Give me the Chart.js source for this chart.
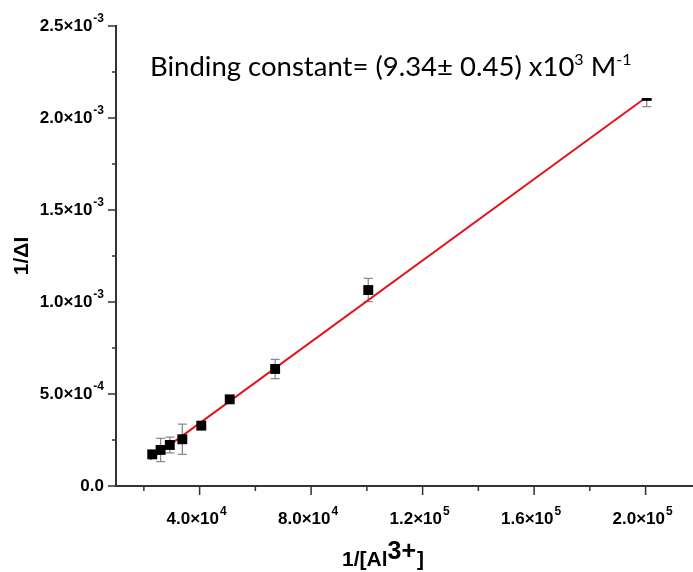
<!DOCTYPE html>
<html>
<head>
<meta charset="utf-8">
<script src="https://cdn.jsdelivr.net/npm/chart.js@4/dist/chart.umd.min.js"></script>
<style>
  html, body { margin: 0; padding: 0; background: #fff; }
  canvas { display: block; }
</style>
</head>
<body>
<canvas id="bhChart" width="693" height="572"></canvas>
<script>
// Data (1/[Al3+] vs 1/dI)
const xVals = [2.3e4, 2.6e4, 2.93e4, 3.38e4, 4.06e4, 5.08e4, 6.71e4, 1.005e5, 2.004e5];
const yVals = [1.72e-4, 1.96e-4, 2.23e-4, 2.54e-4, 3.28e-4, 4.71e-4, 6.36e-4, 1.065e-3, 2.12e-3];
const yErr  = [1.5e-5, 6.3e-5, 4.3e-5, 8.2e-5, 2.0e-5, 1.5e-5, 5.2e-5, 6.3e-5, 5.8e-5];

// fitted line end points
const fitX = [2.22e4, 2.0e5];
const fitY = [1.45e-4, 2.11e-3];

// axis ticks
const xMajor = [4e4, 8e4, 1.2e5, 1.6e5, 2e5];
const xMinor = [2e4, 6e4, 1e5, 1.4e5, 1.8e5];
const xTickLabels = [['4.0\u00d710', '4'], ['8.0\u00d710', '4'], ['1.2\u00d710', '5'], ['1.6\u00d710', '5'], ['2.0\u00d710', '5']];
const yMajor = [0, 5e-4, 1e-3, 1.5e-3, 2e-3, 2.5e-3];
const yMinor = [2.5e-4, 7.5e-4, 1.25e-3, 1.75e-3, 2.25e-3];
const yTickLabels = [['0.0', ''], ['5.0\u00d710', '-4'], ['1.0\u00d710', '-3'], ['1.5\u00d710', '-3'], ['2.0\u00d710', '-3'], ['2.5\u00d710', '-3']];

const AXIS_FONT = '"Liberation Sans", Arial, sans-serif';
const AXIS_COLOR = '#333';

// draws "mantissa" + superscript exponent
function drawSci(ctx, base, exp, x, y, align) {
    ctx.font = 'bold 17px ' + AXIS_FONT;
    let wb = ctx.measureText(base).width;
    ctx.font = 'bold 12px ' + AXIS_FONT;
    let we = exp ? ctx.measureText(exp).width + 1 : 0;
    let total = wb + we;
    let left = align === 'right' ? x - total : x - total / 2;
    ctx.textAlign = 'left';
    ctx.textBaseline = 'middle';
    ctx.font = 'bold 17px ' + AXIS_FONT;
    ctx.fillText(base, left, y);
    if (exp) {
        ctx.font = 'bold 12px ' + AXIS_FONT;
        ctx.fillText(exp, left + wb + 1, y - 7);
    }
}

const errorBars = {
    id: 'errorBars',
    beforeDatasetsDraw(chart) {
        const ctx = chart.ctx, xs = chart.scales.x, ys = chart.scales.y;
        ctx.save();
        ctx.strokeStyle = '#8a8a8a';
        ctx.lineWidth = 1.3;
        xVals.forEach(function (xv, i) {
            let px = xs.getPixelForValue(xv);
            let top = ys.getPixelForValue(yVals[i] + yErr[i]);
            let bot = ys.getPixelForValue(yVals[i] - yErr[i]);
            ctx.beginPath();
            ctx.moveTo(px, top); ctx.lineTo(px, bot);
            ctx.moveTo(px - 4.5, top); ctx.lineTo(px + 4.5, top);
            ctx.moveTo(px - 4.5, bot); ctx.lineTo(px + 4.5, bot);
            ctx.stroke();
        });
        ctx.restore();
    }
};

// text box with white fill sitting over the plot
const annotation = {
    id: 'annotation',
    afterDatasetsDraw(chart) {
        const ctx = chart.ctx;
        ctx.save();
        ctx.fillStyle = '#fff';
        ctx.fillRect(140, 34, 528, 64);
        ctx.fillStyle = '#000';
        ctx.textAlign = 'left';
        ctx.textBaseline = 'alphabetic';
        let x = 150, y = 76;
        const big = '27.5px Lato, "Open Sans", sans-serif';
        const small = '16px Lato, "Open Sans", sans-serif';
        const parts = [
            ['Binding constant= (9.34\u00b1 0.45) x10', big, 0],
            ['3', small, -11],
            [' M', big, 0],
            ['-1', small, -11]
        ];
        parts.forEach(function (p) {
            ctx.font = p[1];
            ctx.fillText(p[0], x, y + p[2]);
            x += ctx.measureText(p[0]).width;
        });
        ctx.restore();
    }
};

const axisDecor = {
    id: 'axisDecor',
    afterDraw(chart) {
        const ctx = chart.ctx, xs = chart.scales.x, ys = chart.scales.y;
        const area = chart.chartArea;
        ctx.save();
        ctx.strokeStyle = AXIS_COLOR;
        ctx.fillStyle = '#000';
        ctx.lineWidth = 1.5;
        ctx.beginPath();
        yMajor.forEach(function (v) {
            let py = ys.getPixelForValue(v);
            ctx.moveTo(area.left - 8, py); ctx.lineTo(area.left, py);
        });
        yMinor.forEach(function (v) {
            let py = ys.getPixelForValue(v);
            ctx.moveTo(area.left - 4, py); ctx.lineTo(area.left, py);
        });
        xMajor.forEach(function (v) {
            let px = xs.getPixelForValue(v);
            ctx.moveTo(px, area.bottom); ctx.lineTo(px, area.bottom + 9);
        });
        xMinor.forEach(function (v) {
            let px = xs.getPixelForValue(v);
            ctx.moveTo(px, area.bottom); ctx.lineTo(px, area.bottom + 5);
        });
        ctx.stroke();

        yMajor.forEach(function (v, i) {
            drawSci(ctx, yTickLabels[i][0], yTickLabels[i][1], area.left - 12, ys.getPixelForValue(v), 'right');
        });
        xMajor.forEach(function (v, i) {
            drawSci(ctx, xTickLabels[i][0], xTickLabels[i][1], xs.getPixelForValue(v) - 3, area.bottom + 33, 'center');
        });

        // y title
        ctx.save();
        ctx.translate(22, 256);
        ctx.rotate(-Math.PI / 2);
        ctx.font = 'bold 21px ' + AXIS_FONT;
        ctx.textAlign = 'center';
        ctx.textBaseline = 'middle';
        ctx.fillText('1/\u0394I', 0, 0);
        ctx.restore();

        // x title 1/[Al3+]
        ctx.textAlign = 'left';
        ctx.textBaseline = 'alphabetic';
        let tx = 342;
        ctx.font = 'bold 21px ' + AXIS_FONT;
        ctx.fillText('1/[Al', tx, 566);
        tx += ctx.measureText('1/[Al').width;
        ctx.font = 'bold 25px ' + AXIS_FONT;
        ctx.fillText('3+', tx, 559);
        tx += ctx.measureText('3+').width + 1;
        ctx.font = 'bold 21px ' + AXIS_FONT;
        ctx.fillText(']', tx, 566);
        ctx.restore();
    }
};

const points = xVals.map(function (x, i) { return { x: x, y: yVals[i] }; });
const fitLine = fitX.map(function (x, i) { return { x: x, y: fitY[i] }; });

const ctx = document.getElementById('bhChart').getContext('2d');
const bhChart = new Chart(ctx, {
    type: 'scatter',
    data: {
        datasets: [{
            label: 'data',
            data: points,
            pointStyle: 'rect',
            pointRadius: 7,
            pointBackgroundColor: '#000',
            pointBorderColor: '#000',
            pointBorderWidth: 0
        }, {
            type: 'line',
            label: 'fit',
            data: fitLine,
            borderColor: '#e4131b',
            borderWidth: 2,
            pointRadius: 0,
            fill: false
        }]
    },
    options: {
        responsive: false,
        animation: false,
        layout: { autoPadding: false, padding: { left: 116, right: 0, top: 26, bottom: 86 } },
        plugins: {
            legend: { display: false },
            tooltip: { enabled: false }
        },
        scales: {
            x: {
                type: 'linear',
                min: 1e4,
                max: 2.17e5,
                ticks: { display: false },
                grid: { display: false },
                border: { display: true, color: AXIS_COLOR, width: 2 },
                afterFit: function (s) { s.height = 0; }
            },
            y: {
                min: 0,
                max: 2.5e-3,
                ticks: { display: false },
                grid: { display: false },
                border: { display: true, color: AXIS_COLOR, width: 2 },
                afterFit: function (s) { s.width = 0; }
            }
        }
    },
    plugins: [errorBars, annotation, axisDecor]
});
</script>
</body>
</html>
